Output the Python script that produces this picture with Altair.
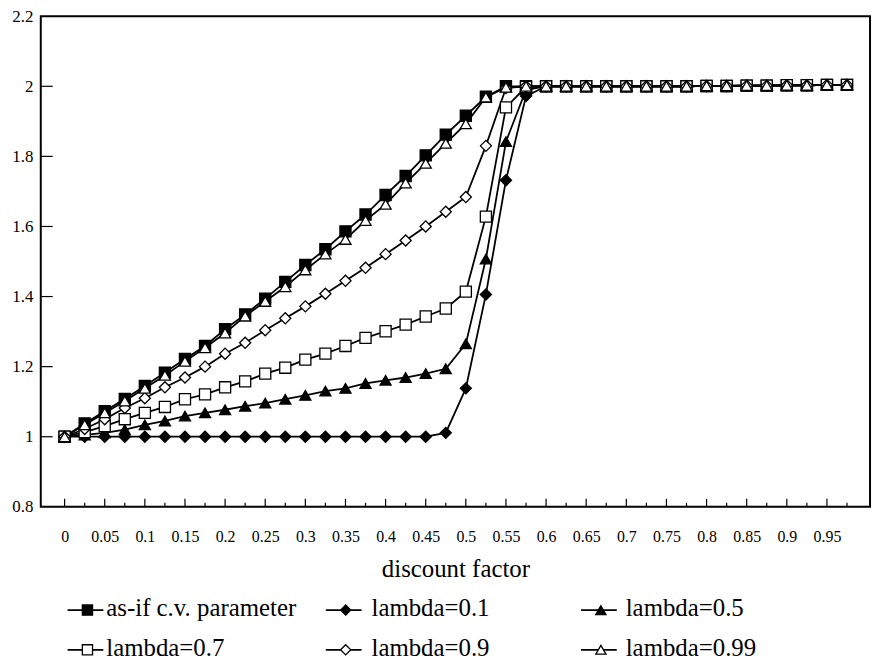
import altair as alt
import pandas as pd

# ---------------- data ----------------
x_vals = [0, 0.025, 0.05, 0.075, 0.1, 0.125, 0.15, 0.175, 0.2, 0.225,
          0.25, 0.275, 0.3, 0.325, 0.35, 0.375, 0.4, 0.425, 0.45, 0.475,
          0.5, 0.525, 0.55, 0.575, 0.6, 0.625, 0.65, 0.675, 0.7, 0.725,
          0.75, 0.775, 0.8, 0.825, 0.85, 0.875, 0.9, 0.925, 0.95, 0.975]

tail = [2.0, 2.0, 2.0, 2.0, 2.0, 2.0, 2.0, 2.0,
        2.001, 2.001, 2.002, 2.002, 2.003, 2.003, 2.004, 2.004]

asif = [1.000, 1.038, 1.073, 1.108, 1.145, 1.183, 1.222, 1.259, 1.307, 1.349,
        1.394, 1.442, 1.490, 1.535, 1.586, 1.634, 1.690, 1.744, 1.803, 1.862,
        1.916, 1.970, 2.000, 2.000] + tail
lam01 = [1.000, 1.000, 1.000, 1.000, 1.000, 1.000, 1.000, 1.000, 1.000, 1.000,
         1.000, 1.000, 1.000, 1.000, 1.000, 1.000, 1.000, 1.000, 1.000, 1.011,
         1.138, 1.406, 1.732, 1.972] + tail
lam05 = [1.000, 1.005, 1.011, 1.020, 1.034, 1.045, 1.059, 1.068, 1.077, 1.087,
         1.096, 1.107, 1.118, 1.130, 1.138, 1.152, 1.161, 1.169, 1.180, 1.194,
         1.265, 1.507, 1.842, 1.990] + tail
lam07 = [1.000, 1.013, 1.030, 1.050, 1.068, 1.085, 1.107, 1.121, 1.141, 1.158,
         1.180, 1.197, 1.220, 1.237, 1.259, 1.282, 1.301, 1.320, 1.343, 1.366,
         1.414, 1.628, 1.940, 1.998] + tail
lam09 = [1.000, 1.022, 1.050, 1.082, 1.110, 1.141, 1.169, 1.200, 1.237, 1.268,
         1.304, 1.338, 1.372, 1.408, 1.445, 1.482, 1.521, 1.560, 1.600, 1.642,
         1.684, 1.830, 1.995, 2.000] + tail
lam099 = [1.000, 1.034, 1.068, 1.102, 1.138, 1.175, 1.215, 1.254, 1.296, 1.344,
          1.386, 1.428, 1.476, 1.521, 1.563, 1.617, 1.663, 1.724, 1.780, 1.837,
          1.893, 1.969, 1.997, 2.000] + tail

series_names = ["as-if c.v. parameter", "lambda=0.1", "lambda=0.5",
                "lambda=0.7", "lambda=0.9", "lambda=0.99"]
series_values = [asif, lam01, lam05, lam07, lam09, lam099]

x_label_values = [0, 0.05, 0.1, 0.15, 0.2, 0.25, 0.3, 0.35, 0.4, 0.45, 0.5,
                  0.55, 0.6, 0.65, 0.7, 0.75, 0.8, 0.85, 0.9, 0.95]
y_label_values = [0.8, 1.0, 1.2, 1.4, 1.6, 1.8, 2.0, 2.2]
y_tick_values = [1.0, 1.2, 1.4, 1.6, 1.8, 2.0]

# ---------------- styling ----------------
FONT = "Liberation Serif, Times New Roman, serif"
TOP = 6
W, H = 835, 508 - 8 - TOP
shapes = ["square", "diamond", "triangle-up", "square", "diamond", "triangle-up"]
fills = ["black", "black", "black", "white", "white", "white"]

rows = []
for name, vals in zip(series_names, series_values):
    for xv, yv in zip(x_vals, vals):
        rows.append({"x": xv, "v": yv, "series": name})
df = pd.DataFrame(rows)

xscale = alt.Scale(domain=[-0.0297, 1.0037], nice=False, zero=False)
yscale = alt.Scale(domain=[0.8, 2.2], nice=False, zero=False)
shape_scale = alt.Scale(domain=series_names, range=shapes)
fill_scale = alt.Scale(domain=series_names, range=fills)

X = alt.X("x:Q", scale=xscale, title="discount factor",
          axis=alt.Axis(values=x_label_values, format="~g", ticks=False,
                        domain=False, grid=False, labelFont=FONT,
                        labelFontSize=16, labelPadding=22, labelColor="black",
                        titleFont=FONT, titleFontSize=25, titleFontWeight="normal",
                        titleColor="black", titlePadding=12, labelFlush=False))
Y = alt.Y("v:Q", scale=yscale, title=None,
          axis=alt.Axis(values=y_label_values, format="~g", ticks=False,
                        domain=False, grid=False, labelFont=FONT,
                        labelFontSize=17, labelPadding=8, labelColor="black",
                        labelFlush=False))

lines = alt.Chart(df).mark_line(color="black", strokeWidth=1.8).encode(
    x=X, y=Y, detail="series:N")

points = alt.Chart(df).mark_point(filled=True, stroke="black", strokeWidth=1.3,
                                  size=125, opacity=1).encode(
    x=alt.X("x:Q", scale=xscale),
    y=alt.Y("v:Q", scale=yscale),
    shape=alt.Shape("series:N", scale=shape_scale, legend=None),
    fill=alt.Fill("series:N", scale=fill_scale, legend=None),
)

tick_df = pd.DataFrame({"x": x_vals,
                        "major": [i % 2 == 0 for i in range(len(x_vals))]})
xt_major = alt.Chart(tick_df).transform_filter("datum.major").mark_rule(
    color="black", strokeWidth=1.2).encode(
    x=alt.X("x:Q", scale=xscale), y=alt.value(H), y2=alt.value(H - 8))
xt_minor = alt.Chart(tick_df).transform_filter("!datum.major").mark_rule(
    color="black", strokeWidth=1.2).encode(
    x=alt.X("x:Q", scale=xscale), y=alt.value(H), y2=alt.value(H - 4))
yt = alt.Chart(pd.DataFrame({"v": y_tick_values})).mark_rule(
    color="black", strokeWidth=1.2).encode(
    y=alt.Y("v:Q", scale=yscale), x=alt.value(0), x2=alt.value(12))

main = alt.layer(lines, points, xt_major, xt_minor, yt)

# ---------------- legend (drawn by hand, 3 columns x 2 rows) ----------------
OY = 8 + TOP                      # page y of the plot's top edge
col_marker_x = [47, 307, 564]
col_text_x = [66, 333, 589]
row_symbol_y = [612 - OY, 652 - OY]
row_text_y = [618 - OY, 658 - OY]
leg = []
for i, name in enumerate(series_names):
    c, r = i % 3, i // 3
    leg.append({"series": name,
                "mx": col_marker_x[c], "x1": col_marker_x[c] - 20,
                "x2": col_marker_x[c] + 16, "my": row_symbol_y[r],
                "tx": col_text_x[c], "ty": row_text_y[r]})
leg_df = pd.DataFrame(leg)

leg_lines = alt.Chart(leg_df).mark_rule(color="black", strokeWidth=1.8).encode(
    x=alt.X("x1:Q", scale=None, axis=None), x2="x2:Q",
    y=alt.Y("my:Q", scale=None, axis=None))
leg_pts = alt.Chart(leg_df).mark_point(filled=True, stroke="black",
                                       strokeWidth=1.3, size=105, opacity=1).encode(
    x=alt.X("mx:Q", scale=None, axis=None),
    y=alt.Y("my:Q", scale=None, axis=None),
    shape=alt.Shape("series:N", scale=shape_scale, legend=None),
    fill=alt.Fill("series:N", scale=fill_scale, legend=None))
leg_txt = alt.Chart(leg_df).mark_text(align="left", baseline="alphabetic",
                                      font=FONT, fontSize=25, color="black").encode(
    x=alt.X("tx:Q", scale=None, axis=None),
    y=alt.Y("ty:Q", scale=None, axis=None),
    text="series:N")
legend = alt.layer(leg_lines, leg_pts, leg_txt)

chart = alt.layer(main, legend).resolve_scale(
    x="independent", y="independent").properties(
    width=W, height=H,
    padding={"left": 33, "top": TOP, "right": 4, "bottom": 663 - 508},
    autosize=alt.AutoSizeParams(type="none"),
    background="white",
).configure_view(stroke="black", strokeWidth=2)

chart.save("out.html", embed_options={"renderer": "svg", "actions": False})
